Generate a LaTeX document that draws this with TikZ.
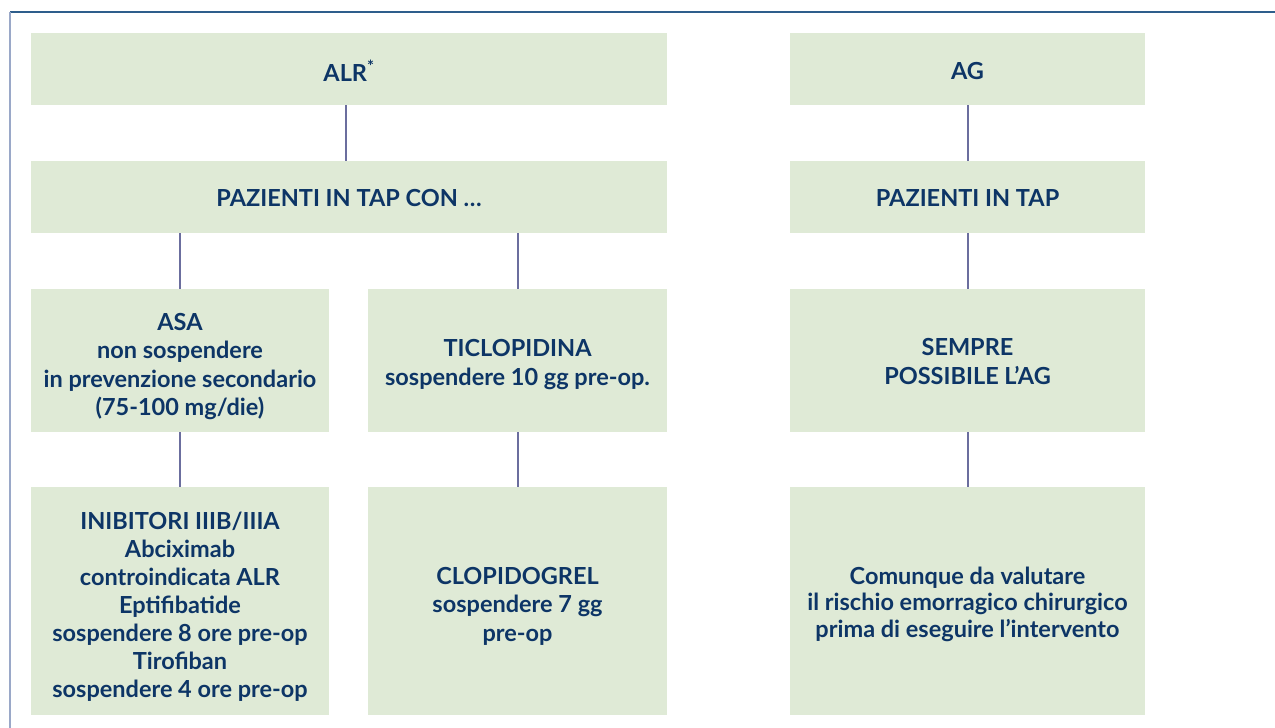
\documentclass[tikz,border=0pt]{standalone}
\usepackage{fontspec}
\setmainfont{Lato}
\definecolor{boxfill}{HTML}{DFEAD6}
\definecolor{linkcol}{HTML}{6B6E9E}
\definecolor{txtcol}{HTML}{0D3566}
\definecolor{topcol}{HTML}{2E5E8C}
\definecolor{leftcol}{HTML}{9AA8C8}
\begin{document}
\begin{tikzpicture}[x=1pt,y=-1pt,
  box/.style={fill=boxfill,draw=none,inner sep=0pt},
  txt/.style={align=center,text=txtcol,inner sep=0pt,
    font=\fontsize{23.5}{28.5}\selectfont\bfseries},
  link/.style={draw=linkcol,line width=2pt}]
\useasboundingbox (0,0) rectangle (1275,728);
\draw[topcol,line width=1.5pt] (10,12) -- (1275,12);
\draw[leftcol,line width=1.5pt] (10,12) -- (10,728);
\node[box,minimum width=636pt,minimum height=72pt,
  label={[txt,yshift=-2pt]center:ALR\textsuperscript{*}}] (alr) at (349,69) {};
\node[box,minimum width=355pt,minimum height=72pt,
  label={[txt,yshift=-2pt]center:AG}] (ag) at (967.5,69) {};
\node[box,minimum width=636pt,minimum height=72pt,
  label={[txt,yshift=-1pt]center:PAZIENTI IN TAP CON …}] (paz1) at (349,197) {};
\node[box,minimum width=355pt,minimum height=72pt,
  label={[txt,yshift=-1pt]center:PAZIENTI IN TAP}] (paz2) at (967.5,197) {};
\node[box,minimum width=298pt,minimum height=143pt,
  label={[txt,yshift=-6pt]center:{ASA\\non sospendere\\in prevenzione secondario\\(75-100 mg/die)}}] (asa) at (180,360.5) {};
\node[box,minimum width=299pt,minimum height=143pt,
  label={[txt,yshift=-4pt]center:{TICLOPIDINA\\sospendere 10 gg pre-op.}}] (tic) at (517.5,360.5) {};
\node[box,minimum width=355pt,minimum height=143pt,
  label={[txt,yshift=-1pt]center:{SEMPRE\\POSSIBILE L’AG}}] (sem) at (967.5,360.5) {};
\node[box,minimum width=298pt,minimum height=228pt,
  label={[txt,yshift=-6pt,font=\fontsize{23.5}{28}\selectfont\bfseries]center:{INIBITORI IIIB/IIIA\\Abciximab\\controindicata ALR\\Eptifibatide\\sospendere 8 ore pre-op\\Tirofiban\\sospendere 4 ore pre-op}}] (ini) at (180,601) {};
\node[box,minimum width=299pt,minimum height=228pt,
  label={[txt,yshift=-5pt]center:{CLOPIDOGREL\\sospendere 7 gg\\pre-op}}] (clo) at (517.5,601) {};
\node[box,minimum width=355pt,minimum height=228pt,
  label={[txt,yshift=-3pt,font=\fontsize{23.5}{26.5}\selectfont\bfseries]center:{Comunque da valutare\\il rischio emorragico chirurgico\\prima di eseguire l’intervento}}] (com) at (967.5,601) {};
\draw[link] ([xshift=-3pt]alr.south) -- ([xshift=-3pt]paz1.north);
\draw[link] (paz1.south -| asa.north) -- (asa.north);
\draw[link] (paz1.south -| tic.north) -- (tic.north);
\draw[link] (asa.south) -- (ini.north);
\draw[link] (tic.south) -- (clo.north);
\draw[link] (ag.south) -- (paz2.north);
\draw[link] (paz2.south) -- (sem.north);
\draw[link] (sem.south) -- (com.north);
\end{tikzpicture}
\end{document}
